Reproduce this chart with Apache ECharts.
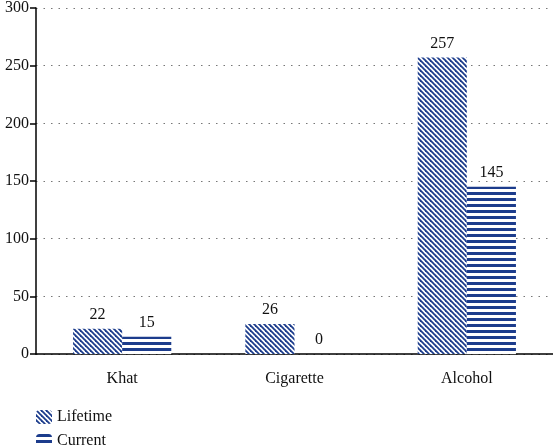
<!DOCTYPE html>
<html><head><meta charset="utf-8">
<script src="https://cdn.jsdelivr.net/npm/echarts@6/dist/echarts.min.js"></script>
<style>html,body{margin:0;padding:0;background:#fff}#c{width:553px;height:446px}</style>
</head><body><div id="c"></div>
<script>
const categories = ['Khat', 'Cigarette', 'Alcohol'];
const lifetime = [22, 26, 257];
const current = [15, 0, 145];
const yTicks = [0, 50, 100, 150, 200, 250, 300];

const BLUE = '#1c3c8c';
function diagPattern() {
  const c = document.createElement('canvas');
  c.width = 5; c.height = 5;
  const g = c.getContext('2d');
  g.fillStyle = '#fff'; g.fillRect(0, 0, 5, 5);
  g.strokeStyle = BLUE; g.lineWidth = 1.8;
  for (let k = -5; k <= 5; k += 5) {
    g.beginPath(); g.moveTo(k - 1, -1); g.lineTo(k + 6, 6); g.stroke();
  }
  return c;
}
function horizPattern() {
  const c = document.createElement('canvas');
  c.width = 6; c.height = 6;
  const g = c.getContext('2d');
  g.fillStyle = '#fff'; g.fillRect(0, 0, 6, 6);
  g.fillStyle = BLUE; g.fillRect(0, 0, 6, 3);
  return c;
}
const font = 'Liberation Serif';
const legendText = { fontFamily: font, fontSize: 16, color: '#111' };
const chart = echarts.init(document.getElementById('c'));
chart.setOption({
  animation: false,
  textStyle: { fontFamily: font },
  grid: { left: 36, right: 0, top: 5, bottom: 92 },
  legend: [
    { left: 31, top: 404, itemWidth: 16, itemHeight: 14, itemGap: 8, textStyle: legendText, data: ['Lifetime'] },
    { left: 31, top: 428, itemWidth: 16, itemHeight: 14, itemGap: 8, textStyle: legendText, data: ['Current'] }
  ],
  xAxis: {
    type: 'category', data: categories,
    axisLine: { lineStyle: { color: '#000', width: 1.5 } },
    axisTick: { length: 6, lineStyle: { color: '#000', width: 1.5 } },
    axisLabel: { fontFamily: font, fontSize: 16, color: '#111', margin: 17 }
  },
  yAxis: {
    type: 'value', min: 0, max: 300, interval: 50,
    axisLine: { show: true, lineStyle: { color: '#000', width: 1.5 } },
    axisTick: { show: true, length: 6, lineStyle: { color: '#000', width: 1.5 } },
    axisLabel: { fontFamily: font, fontSize: 16, color: '#111', margin: 7,
      formatter: v => yTicks.includes(v) ? String(v) : '' },
    splitLine: { lineStyle: { color: '#777', type: [1.5, 6], width: 1.2 } }
  },
  series: [
    { name: 'Lifetime', type: 'bar', data: lifetime, barGap: '0%', barCategoryGap: '43%',
      itemStyle: { color: { image: diagPattern(), repeat: 'repeat' } },
      label: { show: true, position: 'top', distance: 6, fontFamily: font, fontSize: 16, color: '#111' } },
    { name: 'Current', type: 'bar', data: current,
      itemStyle: { color: { image: horizPattern(), repeat: 'repeat' } },
      label: { show: true, position: 'top', distance: 6, fontFamily: font, fontSize: 16, color: '#111' } }
  ]
});
</script></body></html>
